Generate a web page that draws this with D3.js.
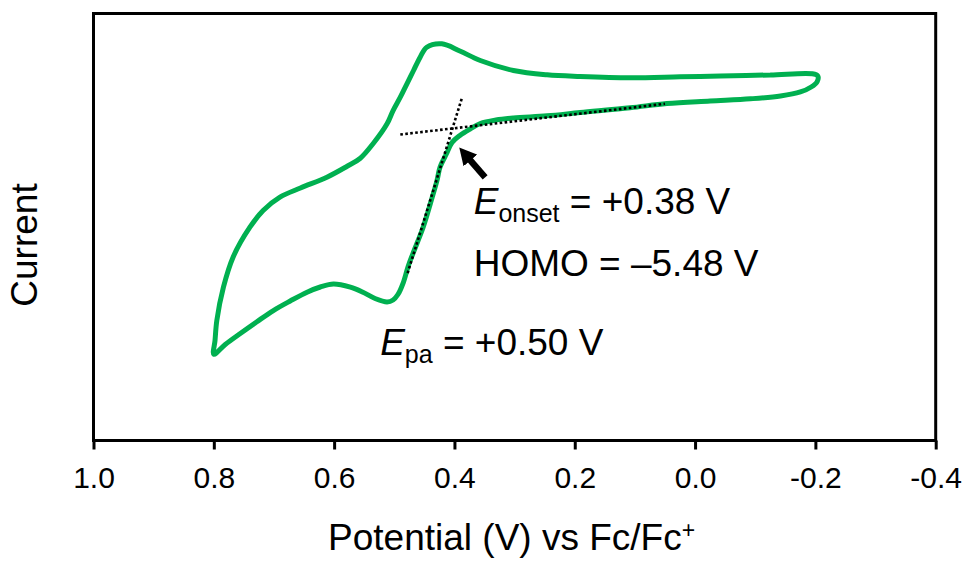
<!DOCTYPE html>
<html>
<head>
<meta charset="utf-8">
<script src="https://cdn.jsdelivr.net/npm/d3@7/dist/d3.min.js"></script>
<style>
  html, body { margin: 0; padding: 0; background: #fff; }
  svg { display: block; font-family: "Liberation Sans", Arial, sans-serif; }
</style>
</head>
<body>
<svg id="chart" width="965" height="561"></svg>
<script>
// Cyclic voltammogram: potential (V vs Fc/Fc+) and current (arbitrary units),
// traced as one closed loop: return sweep (top) from -0.2 V to 0.8 V,
// then forward sweep (bottom) back to -0.2 V.
const potential = [
  -0.195, -0.125, -0.042, 0.025, 0.108, 0.191, 0.246, 0.302, 0.357, 0.391,
  0.421, 0.446, 0.457, 0.468, 0.479, 0.490, 0.502, 0.512, 0.535, 0.557,
  0.579, 0.612, 0.656, 0.690, 0.718, 0.740, 0.768, 0.784, 0.795, 0.798,
  0.800,
  0.781, 0.756, 0.729, 0.701, 0.673, 0.645, 0.623, 0.601, 0.573, 0.553,
  0.532, 0.512, 0.502, 0.494, 0.485, 0.477, 0.469, 0.452, 0.440, 0.429,
  0.424, 0.413, 0.404, 0.391, 0.374, 0.357, 0.331, 0.302, 0.246, 0.191,
  0.108, 0.047, -0.025, -0.092, -0.142, -0.175, -0.193, -0.203, -0.204
];
const current = [
  4.587, 4.560, 4.536, 4.517, 4.494, 4.525, 4.564, 4.665, 4.899, 5.122,
  5.290, 5.211, 4.977, 4.665, 4.354, 4.040, 3.728, 3.417, 2.956, 2.604,
  2.417, 2.166, 1.913, 1.698, 1.386, 0.995, 0.293, -0.410, -1.190, -1.658,
  -1.980,
  -1.752, -1.494, -1.225, -0.956, -0.733, -0.527, -0.405, -0.335, -0.410, -0.522,
  -0.674, -0.756, -0.710, -0.581, -0.300, 0.075, 0.379, 0.995, 1.550, 2.089,
  2.400, 2.721, 2.979, 3.143, 3.295, 3.424, 3.506, 3.553, 3.604, 3.681,
  3.792, 3.892, 3.951, 4.002, 4.068, 4.162, 4.279, 4.407, 4.536
];

const tickValues = [1.0, 0.8, 0.6, 0.4, 0.2, 0.0, -0.2, -0.4];
const tickLabels = ["1.0", "0.8", "0.6", "0.4", "0.2", "0.0", "-0.2", "-0.4"];

// Tangent lines used for the onset construction: [potential, current] end points
const baselineTangent = [[0.490, 3.166], [0.050, 3.885]];
const risingTangent = [[0.388, 4.002], [0.479, -0.136]];
// Arrow from label towards the onset point
const onsetArrow = [[0.349, 2.160], [0.392, 2.860]];

const svg = d3.select("#chart");
const plotLeft = 93.5, plotRight = 935.7, plotTop = 13.5, plotBottom = 440.5;

const x = d3.scaleLinear().domain([1.0, -0.4]).range([plotLeft, plotRight]);
const y = d3.scaleLinear().domain([-4, 6]).range([plotBottom, plotTop]);

// x axis ticks and labels
const xAxis = d3.axisBottom(x)
  .tickValues(tickValues)
  .tickSize(9)
  .tickPadding(0)
  .tickFormat((d, i) => tickLabels[i]);

const gx = svg.append("g")
  .attr("transform", `translate(0,${plotBottom})`)
  .call(xAxis);
gx.select(".domain").remove();
gx.selectAll(".tick line").attr("stroke", "#000").attr("stroke-width", 3);
gx.selectAll(".tick text")
  .attr("y", 47.5)
  .attr("dy", null)
  .attr("fill", "#000")
  .style("font-size", "30px")
  .style("font-family", "'Liberation Sans', Arial, sans-serif");

// plot frame
svg.append("rect")
  .attr("x", plotLeft).attr("y", plotTop)
  .attr("width", plotRight - plotLeft).attr("height", plotBottom - plotTop)
  .attr("fill", "none")
  .attr("stroke", "#000")
  .attr("stroke-width", 3);

// voltammogram loop
const pts = potential.map((p, i) => [p, current[i]]);
const line = d3.line()
  .x(d => x(d[0]))
  .y(d => y(d[1]))
  .curve(d3.curveCatmullRomClosed.alpha(0.5));

svg.append("path")
  .datum(pts)
  .attr("d", line)
  .attr("fill", "none")
  .attr("stroke", "#00B050")
  .attr("stroke-width", 5)
  .attr("stroke-linejoin", "round");

// dotted tangents
const straight = d3.line().x(d => x(d[0])).y(d => y(d[1]));
[baselineTangent, risingTangent].forEach(seg => {
  svg.append("path")
    .attr("d", straight(seg))
    .attr("fill", "none")
    .attr("stroke", "#000")
    .attr("stroke-width", 2.6)
    .attr("stroke-dasharray", "2.6,2.4");
});

// arrow
svg.append("defs").append("marker")
  .attr("id", "head")
  .attr("markerUnits", "userSpaceOnUse")
  .attr("viewBox", "0 0 18 18")
  .attr("refX", 2).attr("refY", 9)
  .attr("markerWidth", 18).attr("markerHeight", 18)
  .attr("orient", "auto")
  .append("path")
  .attr("d", "M0,0 L17,9 L0,18 Z")
  .attr("fill", "#000");

const [a0, a1] = onsetArrow;
const ax0 = x(a0[0]), ay0 = y(a0[1]), ax1 = x(a1[0]), ay1 = y(a1[1]);
const alen = Math.hypot(ax1 - ax0, ay1 - ay0);
const shorten = 15;
svg.append("line")
  .attr("x1", ax0).attr("y1", ay0)
  .attr("x2", ax1 - (ax1 - ax0) / alen * shorten)
  .attr("y2", ay1 - (ay1 - ay0) / alen * shorten)
  .attr("stroke", "#000")
  .attr("stroke-width", 6.5)
  .attr("marker-end", "url(#head)");

// annotations
function labelWithSub(px, py, sub, rest) {
  const t = svg.append("text")
    .attr("x", x(px)).attr("y", y(py))
    .attr("fill", "#000")
    .style("font-size", "37px");
  t.append("tspan").attr("font-style", "italic").text("E");
  t.append("tspan").attr("dy", 8).style("font-size", "25px").text(sub);
  t.append("tspan").attr("dy", -8).text(rest);
}
labelWithSub(0.368, 1.316, "onset", " = +0.38 V");
svg.append("text")
  .attr("x", x(0.368)).attr("y", y(-0.159))
  .attr("fill", "#000")
  .style("font-size", "37px")
  .text("HOMO = \u20135.48 V");
labelWithSub(0.5235, -2.009, "pa", " = +0.50 V");

// axis titles
const xt = svg.append("text")
  .attr("x", (plotLeft + plotRight) / 2 - 3).attr("y", 550)
  .attr("text-anchor", "middle")
  .attr("fill", "#000")
  .style("font-size", "37px");
xt.append("tspan").text("Potential (V) vs Fc/Fc");
xt.append("tspan").attr("dy", -12).style("font-size", "23px").text("+");

svg.append("text")
  .attr("transform", "translate(37,245) rotate(-90)")
  .attr("text-anchor", "middle")
  .attr("fill", "#000")
  .style("font-size", "37px")
  .text("Current");
</script>
</body>
</html>
